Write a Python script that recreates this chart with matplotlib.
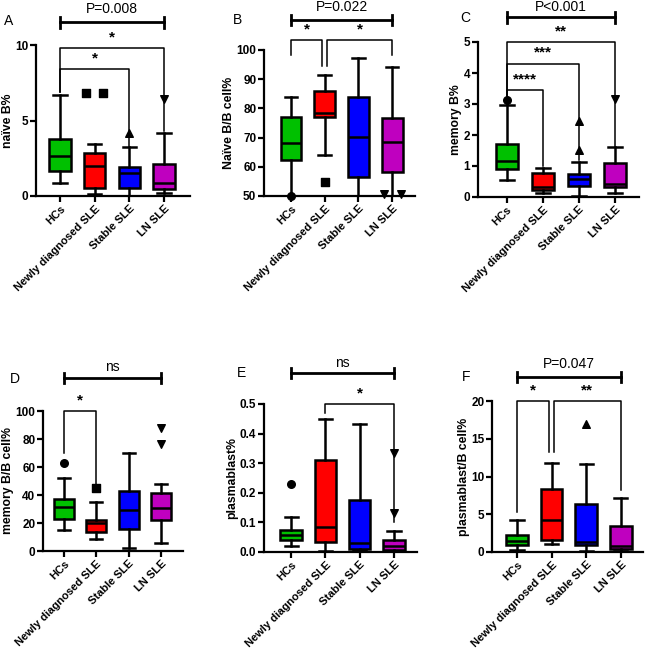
import numpy as np
import matplotlib
matplotlib.use("Agg")
import matplotlib.pyplot as plt

plt.rcParams['font.family'] = ['Liberation Sans', 'DejaVu Sans']

# ---------- DATA ----------
groups = ["HCs", "Newly diagnosed SLE", "Stable SLE", "LN SLE"]
colors = ["#00C000", "#FF0000", "#0000FF", "#BF00BF"]
markers = ["o", "s", "^", "v"]

# five-number summaries per group: (whisker low, Q1, median, Q3, whisker high)
naive_b = [[0.86, 1.66, 2.67, 3.78, 6.69], [0.11, 0.51, 2.0, 2.87, 3.42],
           [0.0, 0.55, 1.5, 1.9, 3.22], [0.18, 0.44, 0.88, 2.12, 4.19]]
naive_b_out = [[], [6.84, 6.84], [4.15], [6.4]]

naive_bb = [[50.0, 62.3, 68.0, 76.9, 84.0], [64.0, 77.2, 78.3, 86.0, 91.4],
            [50.0, 56.6, 70.3, 83.8, 97.1], [50.0, 58.1, 68.6, 76.8, 94.3]]
naive_bb_out = [[50.0], [54.9], [], [50.6, 50.6]]

memory_b = [[0.54, 0.89, 1.15, 1.72, 2.96], [0.13, 0.22, 0.32, 0.77, 0.95],
            [0.03, 0.34, 0.59, 0.75, 1.13], [0.13, 0.32, 0.43, 1.1, 1.61]]
memory_b_out = [[3.12], [], [1.5, 2.45], [3.17]]

memory_bb = [[15.0, 22.6, 31.7, 37.0, 52.0], [8.3, 13.8, 20.2, 22.1, 35.2],
             [2.4, 15.5, 29.3, 42.9, 69.8], [5.5, 22.1, 30.5, 41.2, 47.6]]
memory_bb_out = [[63.0], [44.8], [], [76.2, 88.1]]

plasma = [[0.02, 0.042, 0.058, 0.076, 0.118], [0.003, 0.035, 0.085, 0.31, 0.449],
          [0.006, 0.011, 0.032, 0.175, 0.431], [0.002, 0.006, 0.019, 0.04, 0.07]]
plasma_out = [[0.229], [], [], [0.132, 0.333]]

plasma_bb = [[0.2, 0.9, 1.45, 2.3, 4.3], [1.1, 1.55, 4.3, 8.4, 11.8],
             [0.1, 0.9, 1.3, 6.4, 11.7], [0.15, 0.45, 0.75, 3.4, 7.2]]
plasma_bb_out = [[], [], [16.9], []]

# ---------- PANELS ----------
# rect in image pixels: left, top, right, bottom
panels = [
    dict(letter="A", stats=naive_b, out=naive_b_out, ylabel="naïve B%",
         ylim=(0, 10), yticks=[0, 5, 10], fmt="{:g}", xlim=(-0.69, 3.75),
         rect=(36, 45, 190, 196),
         top=("P=0.008", 11.5, 12.4),
         brackets=[(0, 3, 9.8, 6.9, 4.3, "*"), (0, 2, 8.4, 6.9, 3.3, "*")],
         letter_xy=(4, 21)),
    dict(letter="B", stats=naive_bb, out=naive_bb_out, ylabel="Naïve B/B cell%",
         ylim=(50, 100), yticks=[50, 60, 70, 80, 90, 100], fmt="{:g}", xlim=(-0.8, 3.68),
         rect=(264, 50, 415, 196),
         top=("P=0.022", 110.3, 114.7),
         brackets=[(0, 0.93, 103.4, 98.3, 94.5, "*"), (1.07, 3, 103.4, 94.5, 98.3, "*")],
         letter_xy=(233, 20)),
    dict(letter="C", stats=memory_b, out=memory_b_out, ylabel="memory B%",
         ylim=(0, 5), yticks=[0, 1, 2, 3, 4, 5], fmt="{:g}", xlim=(-0.8, 3.67),
         rect=(478, 42, 639, 197),
         top=("P<0.001", 5.8, 6.14),
         brackets=[(0, 3, 5.0, 3.2, 1.65, "**"), (0, 2, 4.3, 3.2, 1.2, "***"),
                   (0, 1, 3.45, 3.2, 1.0, "****")],
         letter_xy=(460, 18)),
    dict(letter="D", stats=memory_bb, out=memory_bb_out, ylabel="memory B/B cell%",
         ylim=(0, 100), yticks=[0, 20, 40, 60, 80, 100], fmt="{:g}", xlim=(-0.65, 3.68),
         rect=(43, 411, 183, 551),
         top=("ns", 123.6, 131.5),
         brackets=[(0, 1, 100, 70, 47, "*")],
         letter_xy=(10, 379)),
    dict(letter="E", stats=plasma, out=plasma_out, ylabel="plasmablast%",
         ylim=(0, 0.5), yticks=[0, 0.1, 0.2, 0.3, 0.4, 0.5], fmt="{:.1f}",
         xlim=(-0.79, 3.67), rect=(264, 404, 417, 552),
         top=("ns", 0.605, 0.64),
         brackets=[(1, 3, 0.5, 0.47, 0.1, "*")],
         letter_xy=(237, 373)),
    dict(letter="F", stats=plasma_bb, out=plasma_bb_out, ylabel="plasmablast/B cell%",
         ylim=(0, 20), yticks=[0, 5, 10, 15, 20], fmt="{:g}", xlim=(-0.72, 3.64),
         rect=(492, 401, 643, 552),
         top=("P=0.047", 23.2, 24.9),
         brackets=[(0, 0.93, 20, 5.3, 13.2, "*"), (1.07, 3, 20, 13.2, 8.2, "**")],
         letter_xy=(462, 377)),
]

W, H = 646, 652
fig = plt.figure(figsize=(W / 100, H / 100), dpi=100)

for p in panels:
    l, t, r, b = p["rect"]
    ax = fig.add_axes([l / W, 1 - b / H, (r - l) / W, (b - t) / H])

    bstats = []
    for name, s in zip(groups, p["stats"]):
        bstats.append(dict(label=name, whislo=s[0], q1=s[1], med=s[2], q3=s[3],
                           whishi=s[4], fliers=[]))
    art = ax.bxp(bstats, positions=range(4), widths=0.62, capwidths=0.38,
                 patch_artist=True, showfliers=False,
                 boxprops=dict(linewidth=1.8, edgecolor="black"),
                 whiskerprops=dict(linewidth=1.8, color="black"),
                 capprops=dict(linewidth=1.8, color="black"),
                 medianprops=dict(linewidth=1.8, color="black"))
    for patch, c in zip(art["boxes"], colors):
        patch.set_facecolor(c)

    # outliers
    for i, vals in enumerate(p["out"]):
        vals = np.array(vals, dtype=float)
        xs = np.full(len(vals), float(i))
        if len(vals) == 2 and abs(vals[0] - vals[1]) < 1e-9:
            xs = xs + np.array([-0.25, 0.25])
        ax.scatter(xs, vals, marker=markers[i], s=30, color="black", zorder=5,
                   clip_on=False)

    ax.set_xlim(*p["xlim"])
    ax.set_ylim(*p["ylim"])
    ax.set_yticks(p["yticks"])
    ax.set_yticklabels([p["fmt"].format(v) for v in p["yticks"]],
                       fontsize=8.5, fontweight="bold")
    ax.set_xticks(range(4))
    ax.set_xticklabels(groups, rotation=45, ha="right", rotation_mode="anchor",
                       fontsize=8, fontweight="bold")
    ax.set_ylabel(p["ylabel"], fontsize=8.8, fontweight="bold", labelpad=1)
    for sp in ["top", "right"]:
        ax.spines[sp].set_visible(False)
    for sp in ["left", "bottom"]:
        ax.spines[sp].set_linewidth(1.6)
    ax.tick_params(axis="both", length=4, width=1.6, pad=1.5)

    # significance brackets
    yr = p["ylim"][1] - p["ylim"][0]
    for x0, x1, y, l0, l1, star in p["brackets"]:
        ax.plot([x0, x0, x1, x1], [l0, y, y, l1], color="black", lw=1.1,
                clip_on=False, zorder=4)
        ax.text((x0 + x1) / 2, y + 0.025 * yr, star, ha="center", va="bottom",
                fontsize=11, fontweight="bold")

    # overall test bar above panel
    txt, yb, yt = p["top"]
    cap = 0.035 * yr
    ax.plot([0, 3], [yb, yb], color="black", lw=2, clip_on=False)
    ax.plot([0, 0], [yb - cap, yb + cap], color="black", lw=2, clip_on=False)
    ax.plot([3, 3], [yb - cap, yb + cap], color="black", lw=2, clip_on=False)
    ax.text(1.5, yt, txt, ha="center", va="center", fontsize=10)

    lx, ly = p["letter_xy"]
    fig.text(lx / W, 1 - ly / H, p["letter"], ha="left", va="center", fontsize=10)

fig.savefig("out.png", dpi=100)
